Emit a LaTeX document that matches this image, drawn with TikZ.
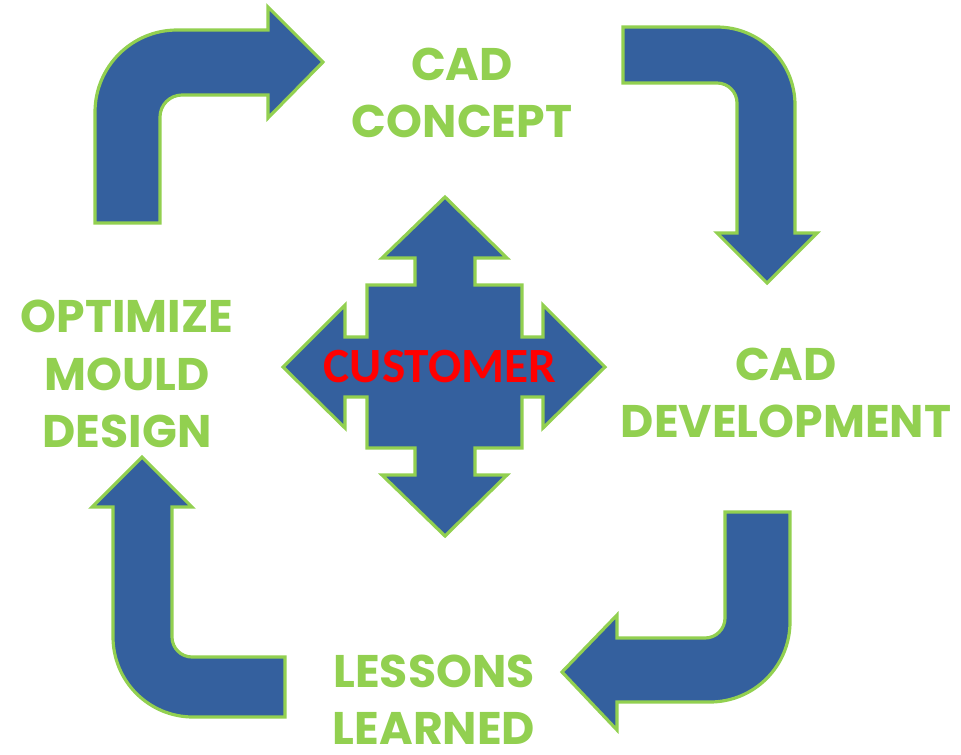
\documentclass[tikz,border=0pt]{standalone}
\usepackage{fontspec}
\newfontfamily\stagefont{Poppins}
\newfontfamily\hubfont{Carlito}
\definecolor{Green}{HTML}{92D050}
\definecolor{Blue}{HTML}{34609E}
\definecolor{Red}{HTML}{FF0000}
\usepackage{tikz}

\begin{document}
\begin{tikzpicture}
    [x=0.01cm, y=-0.01cm,
    bent/.style={fill=Blue, draw=Green, line width=0.9pt, line join=miter},
    stage/.style={text=Green, align=center, inner sep=1pt, font=\stagefont\bfseries\fontsize{13}{16.3}\selectfont},
    hub/.style={text=Red, font=\hubfont\bfseries\fontsize{14}{16}\selectfont}]

    \useasboundingbox (0,0) rectangle (961,754);

    % the four bent arrows of the cycle
    \draw [bent] (95,223) [rounded corners=0.82cm] -- (95,30) [sharp corners] -- (268,30) -- (268,7)
        -- (323,62) -- (268,118) -- (268,95) [rounded corners=0.22cm] -- (160,95) [sharp corners]
        -- (160,223) -- cycle;
    \draw [bent] (623,27) [rounded corners=0.78cm] -- (795,27) [sharp corners] -- (795,233) -- (817,233)
        -- (767,283) -- (717,233) -- (737,233) [rounded corners=0.2cm] -- (737,83) [sharp corners]
        -- (623,83) -- cycle;
    \draw [bent] (725,512) -- (790,512) [rounded corners=0.8cm] -- (790,702) [sharp corners] -- (617,702)
        -- (617,730) -- (562,672) -- (617,615) -- (617,638) [rounded corners=0.2cm] -- (725,638)
        [sharp corners] -- cycle;
    \draw [bent] (142,457) -- (192,507) -- (172,507) [rounded corners=0.2cm] -- (172,657) [sharp corners]
        -- (285,657) -- (285,717) [rounded corners=0.8cm] -- (113,717) [sharp corners] -- (113,507)
        -- (92,507) -- cycle;

    % four-way arrow in the middle
    \draw [bent] (445,197) -- (507,258) -- (475,258) -- (475,285) -- (522,285) -- (522,337) -- (543,337)
        -- (543,305) -- (605,367) -- (543,428) -- (543,397) -- (522,397) -- (522,448) -- (475,448)
        -- (475,475) -- (507,475) -- (445,536) -- (382,475) -- (415,475) -- (415,448) -- (367,448)
        -- (367,397) -- (345,397) -- (345,428) -- (283,367) -- (345,305) -- (345,337) -- (367,337)
        -- (367,285) -- (415,285) -- (415,258) -- (382,258) -- cycle;

    \node [hub] (customer) at (440,367) {CUSTOMER};

    \node [stage] (concept) at (462,93) {CAD\\CONCEPT};
    \node [stage] (development) at (786,393) {CAD\\DEVELOPMENT};
    \node [stage] (lessons) at (434,700) {LESSONS\\LEARNED};
    \node [stage] (optimize) at (127,374) {OPTIMIZE\\MOULD\\DESIGN};
\end{tikzpicture}
\end{document}
